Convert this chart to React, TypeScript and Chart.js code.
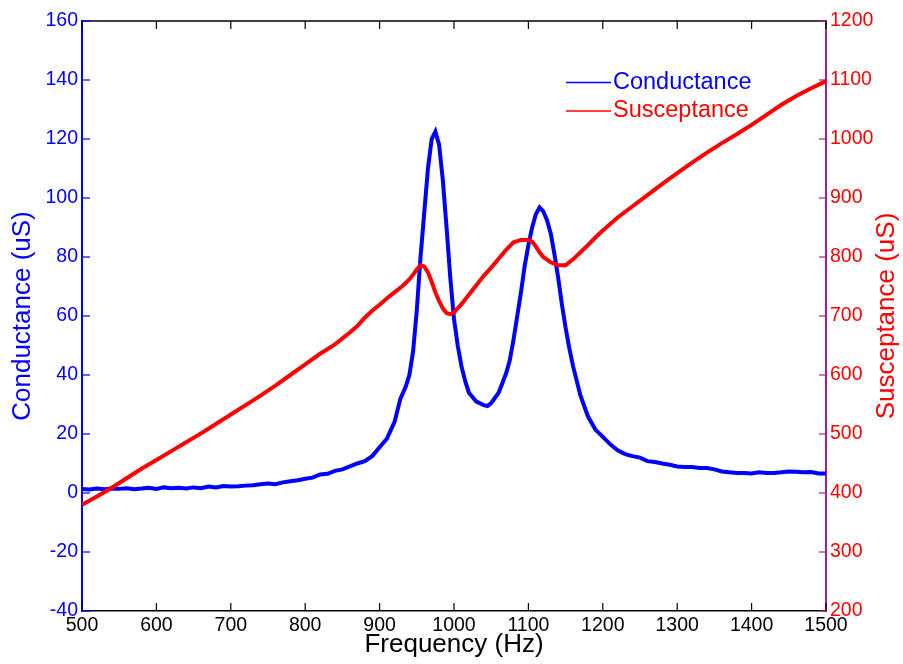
import React, { useEffect, useRef } from 'react';
import { Chart, registerables } from 'chart.js';

Chart.register(...registerables);

// ---- data ----
const conductanceFreq = [
  500, 510, 520, 530, 540, 550, 560, 570, 580, 590, 600, 610, 620, 630, 640, 650, 660, 670, 680, 690,
  700, 710, 720, 730, 740, 750, 760, 770, 780, 790, 800, 810, 820, 830, 840, 850, 860, 870, 880, 890,
  900, 910, 920, 928, 935, 940, 945, 950, 955, 960, 965, 970, 975, 980, 985, 990, 995, 1000, 1005, 1010,
  1015, 1020, 1030, 1040, 1045, 1050, 1060, 1070, 1075, 1080, 1085, 1090, 1095, 1100, 1105, 1110, 1115,
  1120, 1125, 1130, 1135, 1140, 1145, 1150, 1155, 1160, 1170, 1180, 1190, 1200, 1210, 1220, 1230, 1240,
  1250, 1260, 1270, 1280, 1290, 1300, 1310, 1320, 1330, 1340, 1350, 1360, 1370, 1380, 1390, 1400, 1410,
  1420, 1430, 1440, 1450, 1460, 1470, 1480, 1490, 1500,
];
const conductanceValues = [
  1.4, 1.2, 1.5, 1.3, 1.5, 1.4, 1.6, 1.3, 1.5, 1.8, 1.4, 1.9, 1.6, 1.8, 1.5, 1.9, 1.6, 2.2, 1.9, 2.4,
  2.2, 2.3, 2.5, 2.6, 3.0, 3.2, 3.0, 3.6, 4.0, 4.3, 4.8, 5.2, 6.3, 6.5, 7.5, 8.0, 9.0, 10.0, 10.8, 12.5,
  15.5, 18.5, 24, 32, 36, 40, 48, 62, 80, 95, 110, 120, 122.5, 118, 106, 90, 73, 59, 50, 43,
  38, 34, 31, 29.8, 29.5, 30.5, 34, 40.5, 45, 52, 60, 68, 77, 84, 90, 94.5, 96.8,
  95.5, 92.5, 88, 81, 73, 64, 56, 49, 43, 33, 26, 21.5, 19, 16.5, 14.5, 13.2, 12.5,
  12, 10.8, 10.5, 10, 9.6, 9, 8.8, 8.8, 8.5, 8.5, 8.0, 7.3, 7, 6.8, 6.8, 6.6, 7,
  6.8, 6.8, 7, 7.3, 7.2, 7.0, 7.1, 6.6, 6.6,
];

const susceptanceFreq = [
  500, 520, 540, 560, 580, 600, 620, 640, 660, 680, 700, 720, 740, 760, 780, 800, 820, 840, 860, 870,
  880, 890, 900, 910, 920, 930, 940, 945, 950, 955, 960, 965, 970, 975, 980, 985, 990, 995, 1000, 1010,
  1020, 1030, 1040, 1050, 1060, 1070, 1080, 1090, 1100, 1105, 1110, 1115, 1120, 1130, 1140, 1150, 1160,
  1170, 1180, 1190, 1200, 1220, 1240, 1260, 1280, 1300, 1320, 1340, 1360, 1380, 1400, 1420, 1440, 1460,
  1480, 1500,
];
const susceptanceValues = [
  380, 394, 409, 425, 441, 456, 471, 486, 501, 517, 533, 549, 565, 582, 600, 618, 636, 652, 672, 683,
  697, 709, 719, 730, 740, 750, 762, 770, 779, 786, 784, 774, 758, 740, 725, 713, 705, 703, 706, 720,
  736, 752, 768, 782, 797, 812, 825, 829, 829, 826, 818, 808, 800, 791, 786, 786, 796,
  808, 820, 833, 845, 867, 886, 905, 924, 942, 960, 977, 993, 1008, 1024, 1041, 1058, 1073,
  1086, 1098,
];

const xAxisRange = [500, 1500, 100]; // min, max, step
const leftAxisRange = [-40, 160, 20];
const rightAxisRange = [200, 1200, 100];

const seriesLabels = ['Conductance', 'Susceptance'];
const xTitle = 'Frequency (Hz)';
const leftTitle = 'Conductance (uS)';
const rightTitle = 'Susceptance (uS)';

const FONT = "Arial, 'Liberation Sans', Helvetica, sans-serif";
const BLUE = '#0000ff';
const RED = '#ff0000';
const PURPLE = '#a2208a';
const TICK_SIZE = 19.5;

const framePlugin = {
  id: 'matlabFrame',
  afterDraw(chart: any) {
    const { ctx, chartArea: a, scales } = chart;
    const tl = 8;
    const seg = (x1: number, y1: number, x2: number, y2: number) => {
      ctx.beginPath();
      ctx.moveTo(x1, y1);
      ctx.lineTo(x2, y2);
      ctx.stroke();
    };
    ctx.save();
    // top border
    ctx.strokeStyle = '#000';
    ctx.lineWidth = 1.5;
    seg(a.left, a.top, a.right, a.top);
    // x ticks, bottom and top, pointing inward
    ctx.lineWidth = 1.2;
    scales.x.ticks.forEach((t: any) => {
      const px = scales.x.getPixelForValue(t.value);
      seg(px, a.bottom, px, a.bottom - tl);
      seg(px, a.top, px, a.top + tl);
    });
    // left ticks
    ctx.strokeStyle = BLUE;
    scales.y.ticks.forEach((t: any) => {
      const py = scales.y.getPixelForValue(t.value);
      seg(a.left, py, a.left + tl, py);
    });
    // right ticks
    ctx.strokeStyle = '#b0206a';
    scales.y1.ticks.forEach((t: any) => {
      const py = scales.y1.getPixelForValue(t.value);
      seg(a.right, py, a.right - 7, py);
    });

    // legend
    ctx.font = `23.5px ${FONT}`;
    ctx.textAlign = 'left';
    ctx.textBaseline = 'alphabetic';
    chart.data.datasets.forEach((ds: any, i: number) => {
      const base = a.top + 67.5 + i * 28.5;
      const ly = base - 6;
      ctx.strokeStyle = ds.borderColor;
      ctx.lineWidth = 1.5;
      seg(a.right - 260, ly, a.right - 215, ly);
      ctx.fillStyle = ds.borderColor;
      ctx.fillText(ds.label, a.right - 213, base);
    });

    // right axis title (reads bottom-to-top)
    ctx.save();
    ctx.translate(887, (a.top + a.bottom) / 2);
    ctx.rotate(-Math.PI / 2);
    ctx.font = `26px ${FONT}`;
    ctx.fillStyle = RED;
    ctx.textAlign = 'center';
    ctx.textBaseline = 'middle';
    ctx.fillText(rightTitle, 0, 0);
    ctx.restore();

    ctx.restore();
  },
};

export default function App() {
  const ref = useRef<HTMLCanvasElement>(null);

  useEffect(() => {
    document.body.style.margin = '0';
    const canvas = ref.current;
    if (!canvas) return;
    Chart.defaults.font.family = FONT;

    const chart = new Chart(canvas, {
      type: 'line',
      data: {
        datasets: [
          {
            label: seriesLabels[0],
            data: conductanceFreq.map((f, i) => ({ x: f, y: conductanceValues[i] })),
            borderColor: BLUE,
            backgroundColor: BLUE,
            borderWidth: 4,
            pointRadius: 0,
            tension: 0,
            yAxisID: 'y',
            order: 1,
          },
          {
            label: seriesLabels[1],
            data: susceptanceFreq.map((f, i) => ({ x: f, y: susceptanceValues[i] })),
            borderColor: RED,
            backgroundColor: RED,
            borderWidth: 4,
            pointRadius: 0,
            tension: 0,
            yAxisID: 'y1',
            order: 0,
          },
        ],
      },
      options: {
        animation: false,
        responsive: false,
        maintainAspectRatio: false,
        layout: { padding: { top: 21, left: 0, right: 0, bottom: 0 } },
        plugins: {
          legend: { display: false },
          tooltip: { enabled: false },
        },
        scales: {
          x: {
            type: 'linear',
            min: xAxisRange[0],
            max: xAxisRange[1],
            grid: { display: false, drawTicks: false },
            border: { display: true, color: '#000', width: 1.5 },
            ticks: {
              stepSize: xAxisRange[2],
              color: '#000',
              font: { size: TICK_SIZE },
              padding: 3,
              maxRotation: 0,
              callback: (v: any) => String(v),
            },
            title: {
              display: true,
              text: xTitle,
              color: '#000',
              font: { size: 26 },
              padding: { top: 0, bottom: 4 },
            },
            afterFit: (s: any) => {
              s.height = 53;
            },
          },
          y: {
            type: 'linear',
            position: 'left',
            min: leftAxisRange[0],
            max: leftAxisRange[1],
            grid: { display: false, drawTicks: false },
            border: { display: true, color: BLUE, width: 2 },
            ticks: {
              stepSize: leftAxisRange[2],
              color: BLUE,
              font: { size: TICK_SIZE },
              padding: 4,
              callback: (v: any) => String(v),
            },
            title: {
              display: true,
              text: leftTitle,
              color: BLUE,
              font: { size: 26 },
              padding: { top: 7, bottom: 0 },
            },
            afterFit: (s: any) => {
              s.width = 82;
            },
          },
          y1: {
            type: 'linear',
            position: 'right',
            min: rightAxisRange[0],
            max: rightAxisRange[1],
            grid: { display: false, drawTicks: false },
            border: { display: true, color: PURPLE, width: 2 },
            ticks: {
              stepSize: rightAxisRange[2],
              color: RED,
              font: { size: TICK_SIZE },
              padding: 4,
              callback: (v: any) => String(v),
            },
            title: { display: false },
            afterFit: (s: any) => {
              s.width = 77;
            },
          },
        },
      },
      plugins: [framePlugin],
    } as any);

    return () => chart.destroy();
  }, []);

  return (
    <div style={{ position: 'absolute', left: 0, top: 0, width: 903, height: 664 }}>
      <canvas ref={ref} width={903} height={664} style={{ display: 'block' }} />
    </div>
  );
}
